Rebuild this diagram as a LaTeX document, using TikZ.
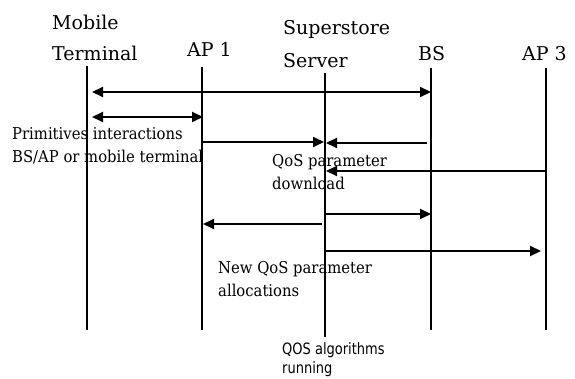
\documentclass[tikz,border=0pt]{standalone}
\usepackage{fontspec}
\setmainfont{DejaVu Serif}
\setsansfont{DejaVu Sans}
\usetikzlibrary{arrows.meta}
\newcommand{\tallish}[1]{\scalebox{1}[1.1]{#1}}
\newcommand{\taller}[1]{\scalebox{1}[1.2]{#1}}
\begin{document}
\begin{tikzpicture}[x=1pt,y=-1pt,
  life/.style={line width=2pt},
  msg/.style={line width=2pt,-{Triangle[length=11pt,width=10pt]}},
  dmsg/.style={line width=2pt,{Triangle[length=11pt,width=10pt]}-{Triangle[length=11pt,width=10pt]}},
  head/.style={anchor=base west,inner sep=0pt,font=\fontsize{19}{21}\selectfont},
  lbl/.style={anchor=base west,inner sep=0pt,font=\fontsize{14.8}{16}\selectfont},
  slbl/.style={anchor=base west,inner sep=0pt,font=\sffamily\fontsize{13}{15}\selectfont}]
\useasboundingbox (0,0) rectangle (575,379);
% lifelines
\coordinate (mt) at (87,66);  \coordinate (mb) at (87,330);
\coordinate (a1t) at (202,67); \coordinate (a1b) at (202,330);
\coordinate (st) at (325,73); \coordinate (sb) at (325,337);
\coordinate (bt) at (431,68); \coordinate (bb) at (431,330);
\coordinate (a3t) at (546,68); \coordinate (a3b) at (546,330);
\draw[life] (mt) -- (mb);
\draw[life] (a1t) -- (a1b);
\draw[life] (st) -- (sb);
\draw[life] (bt) -- (bb);
\draw[life] (a3t) -- (a3b);
% headers
\node[head] (h1) at (52,30) {Mobile};
\node[head] (h2) at (52,61) {Terminal};
\node[head] (h3) at (187,57) {AP 1};
\node[head] (h4) at (283,35) {Superstore};
\node[head] (h5) at (283,68) {Server};
\node[head] (h6) at (418,61) {BS};
\node[head] (h7) at (522,61) {AP 3};
% message end points
\coordinate (m1a) at (92,92);  \coordinate (m1b) at (431,92);
\coordinate (m2a) at (92,117); \coordinate (m2b) at (203,117);
\coordinate (m3a) at (202,142); \coordinate (m3b) at (324,142);
\coordinate (m4a) at (427,143); \coordinate (m4b) at (326,143);
\coordinate (m5a) at (546,171); \coordinate (m5b) at (326,171);
\coordinate (m6a) at (325,214); \coordinate (m6b) at (431,214);
\coordinate (m7a) at (322,224); \coordinate (m7b) at (203,224);
\coordinate (m8a) at (325,251); \coordinate (m8b) at (541,251);
\draw[dmsg] (m1a) -- (m1b);
\draw[dmsg] (m2a) -- (m2b);
\draw[msg] (m3a) -- (m3b);
\draw[msg] (m4a) -- (m4b);
\draw[msg] (m5a) -- (m5b);
\draw[msg] (m6a) -- (m6b);
\draw[msg] (m7a) -- (m7b);
\draw[msg] (m8a) -- (m8b);
% labels
\node[lbl] (l1) at (12,140) {\tallish{Primitives interactions}};
\node[lbl] (l2) at (12,163) {\tallish{BS/AP or mobile terminal}};
\node[lbl] (l3) at (272,167) {\tallish{QoS parameter}};
\node[lbl] (l4) at (272,190) {\tallish{download}};
\node[lbl] (l5) at (218,273) {\tallish{New QoS parameter}};
\node[lbl] (l6) at (218,296) {\tallish{allocations}};
\node[slbl] (l7) at (282,354) {\taller{QOS algorithms}};
\node[slbl] (l8) at (282,373) {\taller{running}};
\end{tikzpicture}
\end{document}
